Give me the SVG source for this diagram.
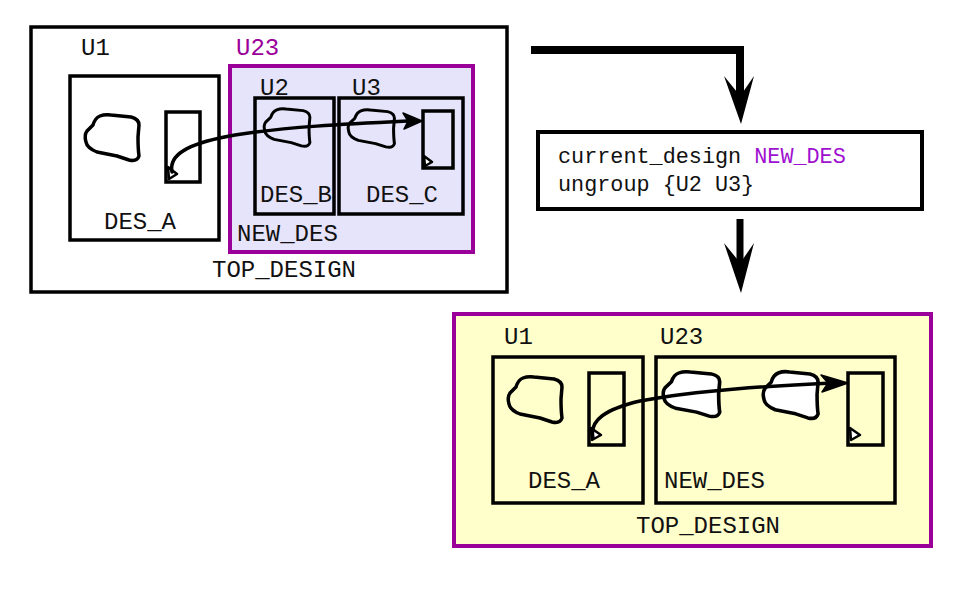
<svg xmlns="http://www.w3.org/2000/svg" width="961" height="591" viewBox="0 0 961 591">
<style>
.t{font-family:"Liberation Mono","Courier New",monospace;font-size:24px;fill:#111}
.c{font-family:"Liberation Mono","Courier New",monospace;font-size:21.8px;fill:#111}
.p{fill:#9a0099}
.pv{fill:#a010d0}
.box{fill:none;stroke:#000;stroke-width:3.5}
.blob{fill:none;stroke:#000;stroke-width:3.5;stroke-linejoin:round}
.wb{fill:#fff;stroke:#000;stroke-width:3.5;stroke-linejoin:round}
.wire{fill:none;stroke:#000;stroke-width:3.5;stroke-linecap:round}
.port{fill:#fff;stroke:#000;stroke-width:2.5;stroke-linejoin:round}
</style>
<defs>
<path id="blob" d="M15,1 Q20,-1 26,0 L46,2 Q54,4 54,10 L53,22 Q53,34 54,41 Q52,47 44,45 L32,41 Q22,39 12,37 Q2,33 1,27 Q-1,20 2,16 Q6,12 8,10 Q10,3 15,1 Z"/>
</defs>
<rect width="961" height="591" fill="#fff"/>

<g id="top_design">
<rect x="31" y="27" width="476" height="265" fill="none" stroke="#000" stroke-width="3.5"/>
<text class="t" x="212" y="277">TOP_DESIGN</text>
</g>
<g id="u1_top">
<rect class="box" x="70" y="76" width="149" height="164"/>
<text class="t" x="81" y="55">U1</text>
<text class="t" x="104" y="229">DES_A</text>
<use href="#blob" class="blob" transform="translate(85,115)"/>
<rect class="box" x="166" y="112" width="34" height="70"/>
<path class="port" d="M168,167 L177,174 L169,179 Z"/>
</g>
<g id="u23_top">
<rect x="230" y="66" width="243" height="186" fill="#e6e4fb" stroke="#9a0099" stroke-width="4"/>
<text class="t p" x="236" y="55">U23</text>
<text class="t" x="237" y="241">NEW_DES</text>
</g>
<g id="u2_top">
<rect class="box" x="255" y="98" width="79" height="116"/>
<text class="t" x="260" y="95">U2</text>
<text class="t" x="260" y="202">DES_B</text>
<use href="#blob" class="blob" transform="translate(264,109) scale(0.85,0.82)"/>
</g>
<g id="u3_top">
<rect class="box" x="339" y="98" width="124" height="116"/>
<text class="t" x="352" y="95">U3</text>
<text class="t" x="366" y="202">DES_C</text>
<use href="#blob" class="blob" transform="translate(348,110) scale(0.86,0.82)"/>
<rect class="box" x="423" y="111" width="30" height="57"/>
<path class="port" d="M424,156 L432,162 L425,166 Z"/>
</g>

<g id="command">
<rect x="538" y="132" width="384" height="77" fill="#fff" stroke="#000" stroke-width="4"/>
<text class="c" x="558" y="163">current_design <tspan class="pv">NEW_DES</tspan></text>
<text class="c" x="558" y="191">ungroup {U2 U3}</text>
</g>

<g id="top_design_after">
<rect x="454" y="314" width="477" height="232" fill="#ffffcc" stroke="#9a0099" stroke-width="4"/>
<text class="t" x="636" y="533">TOP_DESIGN</text>
</g>
<g id="u1_after">
<rect class="box" x="493" y="357" width="150" height="146"/>
<text class="t" x="504" y="344">U1</text>
<text class="t" x="528" y="488">DES_A</text>
<use href="#blob" class="blob" transform="translate(508,377)"/>
<rect class="box" x="589" y="373" width="35" height="72"/>
<path class="port" d="M591,428 L601,435 L592,440 Z"/>
</g>
<g id="u23_after">
<rect class="box" x="656" y="357" width="239" height="146"/>
<text class="t" x="660" y="344">U23</text>
<text class="t" x="664" y="488">NEW_DES</text>
<use href="#blob" class="wb" transform="translate(663,372) scale(1.05,0.98)"/>
<use href="#blob" class="wb" transform="translate(763,372) scale(1.02,1.02)"/>
<rect class="box" x="848" y="373" width="35" height="72"/>
<path class="port" d="M850,428 L860,435 L851,440 Z"/>
</g>

<g id="connectors">
<path class="wire" d="M172,172 C168,152 195,142 235,135 C285,127 345,124 408,121"/>
<path d="M422,121 L403,113 L408,121 L404,129 Z" fill="#000" stroke="#000" stroke-width="1.5" stroke-linejoin="round"/>
<path class="wire" d="M593,438 C589,420 606,409 640,401 C700,390 770,386 832,383"/>
<path d="M848,383 L821,375 L828,383 L822,392 Z" fill="#000" stroke="#000" stroke-width="1.5" stroke-linejoin="round"/>
<path d="M531,50 L740,50 L740,95" fill="none" stroke="#000" stroke-width="8"/>
<path d="M724,76 L737,92 L743,92 L754,76 L741,124 Z" fill="#000"/>
<path d="M740,219 L740,262" fill="none" stroke="#000" stroke-width="7"/>
<path d="M724,243 L737,259 L743,259 L754,243 L741,293 Z" fill="#000"/>
</g>
</svg>
